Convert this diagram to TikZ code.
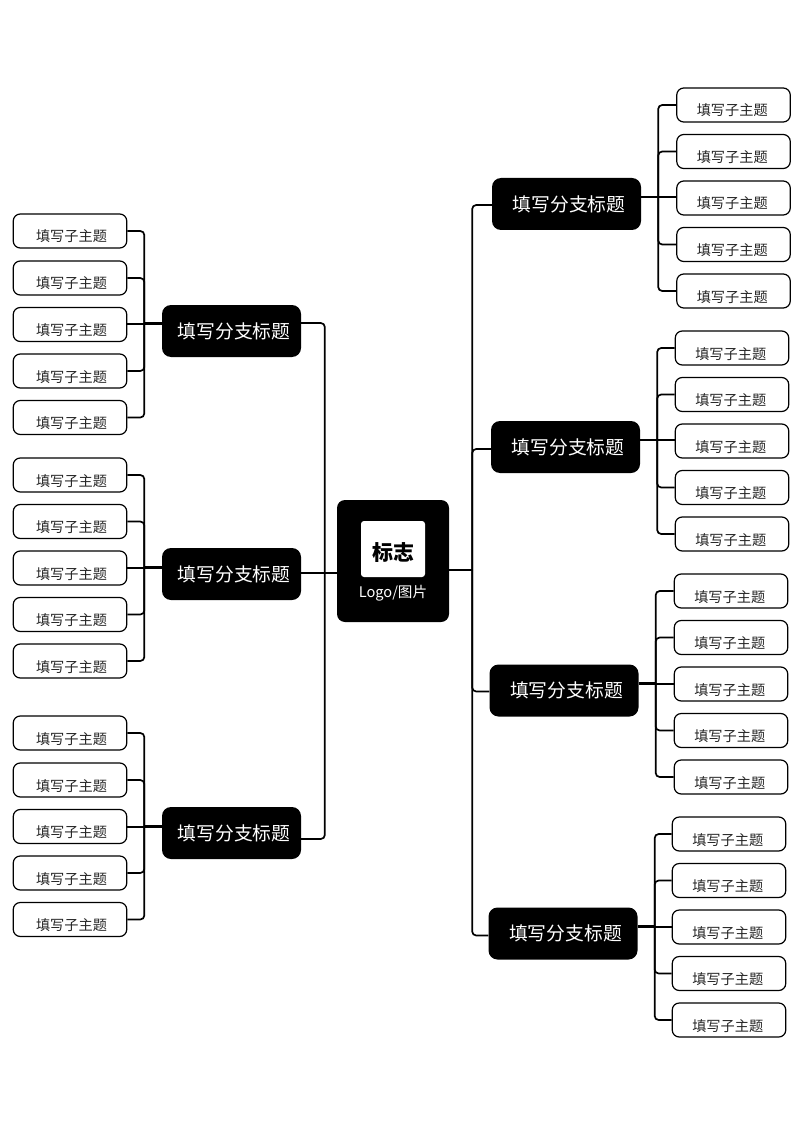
\documentclass[tikz,border=0pt]{standalone}
\usepackage{fontspec}
\setmainfont{Noto Sans CJK SC}
\usetikzlibrary{calc}

\tikzset{
  subbox/.style={draw, line width=1.2pt, rounded corners=7pt, fill=white, inner sep=0pt,
    minimum width=113.5pt, text height=28pt, text depth=6pt,
    font=\fontsize{14.2}{16}\selectfont, text=black!85},
  subleft/.style={subbox, execute at begin node={\hspace*{3pt}}},
  subright/.style={subbox, execute at end node={\hspace*{2.5pt}}},
  branchbox/.style={fill=black, rounded corners=9pt, inner sep=0pt,
    minimum width=149pt, minimum height=52pt, text=white,
    font=\fontsize{18.8}{22}\selectfont, execute at begin node={\hspace*{5pt}}},
  link/.style={line width=1.7pt, rounded corners=4pt},
  midlink/.style={line width=2pt},
  trunk/.style={line width=1.7pt, rounded corners=4pt},
  stub/.style={line width=2.4pt},
}

\begin{document}
\begin{tikzpicture}[x=1pt, y=-1pt]
        \useasboundingbox (0,0) rectangle (800,1131);

        % centre
        \node (C) [fill=black, rounded corners=8pt, minimum width=112pt, minimum height=122pt] at (393,561) {};
        \node (Mark) [fill=white, rounded corners=3pt, inner sep=0pt, minimum width=64pt, text height=39pt, text depth=17pt,
            font=\fontsize{21}{24}\selectfont\bfseries] at (393,549) {标志};
        \node (LogoText) [text=white, inner sep=0pt, font=\fontsize{14.6}{16}\selectfont] at (393,593) {Logo/图片};

        % branches
        \node (B1) [branchbox, minimum width=139pt] at (231.5,331) {填写分支标题};
        \node (B2) [branchbox, minimum width=139pt] at (231.5,574) {填写分支标题};
        \node (B3) [branchbox, minimum width=139pt] at (231.5,833) {填写分支标题};
        \node (B4) [branchbox] at (566.5,204) {填写分支标题};
        \node (B5) [branchbox] at (565.5,447) {填写分支标题};
        \node (B6) [branchbox] at (564,690.5) {填写分支标题};
        \node (B7) [branchbox] at (563,933.5) {填写分支标题};

        % left topics
        \node (S11) [subleft] at (70,231) {填写子主题};
        \node (S12) [subleft] at (70,278) {填写子主题};
        \node (S13) [subleft] at (70,324.5) {填写子主题};
        \node (S14) [subleft] at (70,371) {填写子主题};
        \node (S15) [subleft] at (70,417.5) {填写子主题};

        \node (S21) [subleft] at (70,475) {填写子主题};
        \node (S22) [subleft] at (70,521.5) {填写子主题};
        \node (S23) [subleft] at (70,568) {填写子主题};
        \node (S24) [subleft] at (70,614.5) {填写子主题};
        \node (S25) [subleft] at (70,661) {填写子主题};

        \node (S31) [subleft] at (70,733) {填写子主题};
        \node (S32) [subleft] at (70,780) {填写子主题};
        \node (S33) [subleft] at (70,826.5) {填写子主题};
        \node (S34) [subleft] at (70,873) {填写子主题};
        \node (S35) [subleft] at (70,919.5) {填写子主题};

        % right topics
        \node (S41) [subright] at (733.5,105) {填写子主题};
        \node (S42) [subright] at (733.5,151.5) {填写子主题};
        \node (S43) [subright] at (733.5,198) {填写子主题};
        \node (S44) [subright] at (733.5,244.5) {填写子主题};
        \node (S45) [subright] at (733.5,291) {填写子主题};

        \node (S51) [subright] at (732,348) {填写子主题};
        \node (S52) [subright] at (732,394.5) {填写子主题};
        \node (S53) [subright] at (732,441) {填写子主题};
        \node (S54) [subright] at (732,487.5) {填写子主题};
        \node (S55) [subright] at (732,534) {填写子主题};

        \node (S61) [subright] at (731,591) {填写子主题};
        \node (S62) [subright] at (731,637.5) {填写子主题};
        \node (S63) [subright] at (731,684) {填写子主题};
        \node (S64) [subright] at (731,730.5) {填写子主题};
        \node (S65) [subright] at (731,777) {填写子主题};

        \node (S71) [subright] at (729,834) {填写子主题};
        \node (S72) [subright] at (729,880.5) {填写子主题};
        \node (S73) [subright] at (729,927) {填写子主题};
        \node (S74) [subright] at (729,973.5) {填写子主题};
        \node (S75) [subright] at (729,1020) {填写子主题};

        % junctions
        \coordinate (J1) at ($(B1.west)+(-17.5pt,7.5pt)$);
        \coordinate (J2) at ($(B2.west)+(-17.5pt,6.5pt)$);
        \coordinate (J3) at ($(B3.west)+(-17.5pt,6.5pt)$);
        \coordinate (J4) at ($(B4.east)+(17pt,7pt)$);
        \coordinate (J5) at ($(B5.east)+(17pt,7pt)$);
        \coordinate (J6) at ($(B6.east)+(17pt,7pt)$);
        \coordinate (J7) at ($(B7.east)+(17pt,7pt)$);
        \coordinate (TL) at ($(C.west)+(-12pt,-12pt)$);
        \coordinate (TR) at ($(C.east)+(23pt,-9pt)$);

        % topics to branches
        \draw[link] (S11.east) -| (J1);
        \draw[link] (S12.east) -| (J1);
        \draw[midlink] (S13.east |- J1) -- (J1);
        \draw[link] (S14.east) -| (J1);
        \draw[link] (S15.east) -| (J1);
        \draw[stub] ($(B1.west)+(0,7.5pt)$) -- (J1);

        \draw[link] (S21.east) -| (J2);
        \draw[link] (S22.east) -| (J2);
        \draw[midlink] (S23.east |- J2) -- (J2);
        \draw[link] (S24.east) -| (J2);
        \draw[link] (S25.east) -| (J2);
        \draw[stub] ($(B2.west)+(0,6.5pt)$) -- (J2);

        \draw[link] (S31.east) -| (J3);
        \draw[link] (S32.east) -| (J3);
        \draw[midlink] (S33.east |- J3) -- (J3);
        \draw[link] (S34.east) -| (J3);
        \draw[link] (S35.east) -| (J3);
        \draw[stub] ($(B3.west)+(0,6.5pt)$) -- (J3);

        \draw[link] (S41.west) -| (J4);
        \draw[link] (S42.west) -| (J4);
        \draw[midlink] (S43.west |- J4) -- (J4);
        \draw[link] (S44.west) -| (J4);
        \draw[link] (S45.west) -| (J4);
        \draw[stub] ($(B4.east)+(0,7pt)$) -- (J4);

        \draw[link] (S51.west) -| (J5);
        \draw[link] (S52.west) -| (J5);
        \draw[midlink] (S53.west |- J5) -- (J5);
        \draw[link] (S54.west) -| (J5);
        \draw[link] (S55.west) -| (J5);
        \draw[stub] ($(B5.east)+(0,7pt)$) -- (J5);

        \draw[link] (S61.west) -| (J6);
        \draw[link] (S62.west) -| (J6);
        \draw[midlink] (S63.west |- J6) -- (J6);
        \draw[link] (S64.west) -| (J6);
        \draw[link] (S65.west) -| (J6);
        \draw[stub] ($(B6.east)+(0,7pt)$) -- (J6);

        \draw[link] (S71.west) -| (J7);
        \draw[link] (S72.west) -| (J7);
        \draw[midlink] (S73.west |- J7) -- (J7);
        \draw[link] (S74.west) -| (J7);
        \draw[link] (S75.west) -| (J7);
        \draw[stub] ($(B7.east)+(0,7pt)$) -- (J7);

        % branches to centre
        \draw[trunk] ($(B1.east)+(0,8pt)$) -| (TL);
        \draw[trunk] ($(B2.east)+(0,1pt)$) -- (TL);
        \draw[trunk] ($(B3.east)+(0,-6pt)$) -| (TL);
        \draw[stub] (TL) -- (C.west |- TL);

        \draw[trunk] ($(B4.west)+(0,-1pt)$) -| (TR);
        \draw[trunk] ($(B5.west)+(0,-2pt)$) -| (TR);
        \draw[trunk] ($(B6.west)+(0,-1pt)$) -| (TR);
        \draw[trunk] ($(B7.west)+(0,-2pt)$) -| (TR);
        \draw[stub] (TR) -- (C.east |- TR);
\end{tikzpicture}
\end{document}
